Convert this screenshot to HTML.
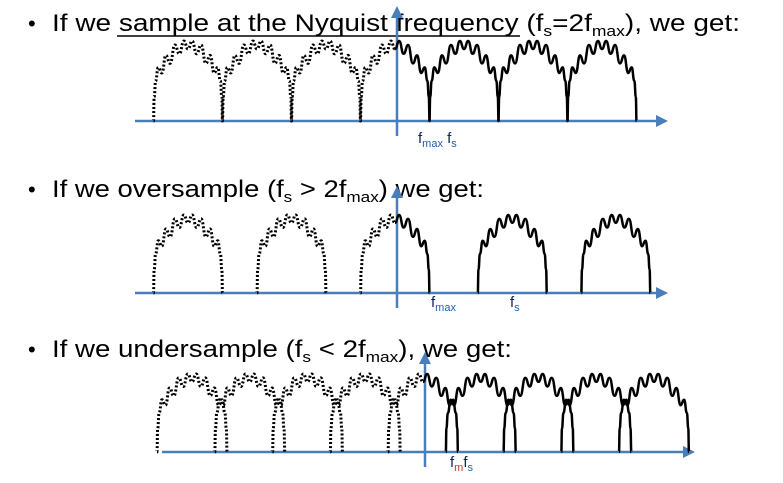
<!DOCTYPE html>
<html><head><meta charset="utf-8"><style>
body{margin:0;background:#fff;}
svg{display:block;}
text{font-family:"Liberation Sans",sans-serif;}
</style></head><body>
<div style="position:relative;width:783px;height:483px">
<svg id="chart" width="783" height="483" viewBox="0 0 783 483" style="position:absolute;left:0;top:0">
<g>
<text x="28" y="31" font-size="22">•</text>
<text x="52" y="31" font-size="24" textLength="688" lengthAdjust="spacingAndGlyphs">If we sample at the Nyquist frequency (f<tspan font-size="15" dy="5">s</tspan><tspan dy="-5">=2f</tspan><tspan font-size="15" dy="5">max</tspan><tspan dy="-5">), we get:</tspan></text>
<line x1="117" y1="36" x2="520" y2="36" stroke="#000" stroke-width="1.5"/>
</g>
<g>
<text x="28" y="197" font-size="22">•</text>
<text x="52" y="197" font-size="24" textLength="432" lengthAdjust="spacingAndGlyphs">If we oversample (f<tspan font-size="15" dy="5">s</tspan><tspan dy="-5"> &gt; 2f</tspan><tspan font-size="15" dy="5">max</tspan><tspan dy="-5">) we get:</tspan></text>
</g>
<g>
<text x="28" y="357" font-size="22">•</text>
<text x="52" y="357" font-size="24" textLength="460" lengthAdjust="spacingAndGlyphs">If we undersample (f<tspan font-size="15" dy="5">s</tspan><tspan dy="-5"> &lt; 2f</tspan><tspan font-size="15" dy="5">max</tspan><tspan dy="-5">), we get:</tspan></text>
</g>
<g id="plots"></g>
<g>
<text x="418" y="143" font-size="15" fill="#10205a">f<tspan font-size="11" dy="4" fill="#1f5faa">max</tspan><tspan dy="-4"> f</tspan><tspan font-size="11" dy="4" fill="#1f5faa">s</tspan></text>
</g>
<g>
<text x="431" y="307" font-size="15" fill="#10205a">f<tspan font-size="11" dy="4" fill="#1f5faa">max</tspan></text>
<text x="510" y="307" font-size="15" fill="#10205a">f<tspan font-size="11" dy="4" fill="#1f5faa">s</tspan></text>
</g>
<g>
<text x="450" y="467" font-size="15" fill="#10205a">f<tspan font-size="11" dy="4" fill="#c0392b">m</tspan><tspan dy="-4">f</tspan><tspan font-size="11" dy="4" fill="#1f5faa">s</tspan></text>
</g>
</svg>
</div>
<script>
// spectral replica centers in units of fmax
const panel1Centers = [-6, -4, -2, 0, 2, 4, 6];
const panel2Centers = [-6, -3, 0, 3.4, 6.4];
const panel3Centers = [-6.6, -4.95, -3.3, -1.65, 0, 1.65, 3.3, 4.95, 6.6];
// half-spectrum magnitude profile
const profileU = [0, 0.12, 0.25, 0.38, 0.52, 0.64, 0.76, 0.86, 0.94, 0.98, 1];
const profileH = [0.9, 1.0, 0.84, 0.95, 0.72, 0.82, 0.6, 0.67, 0.5, 0.3, 0];

const NS = "http://www.w3.org/2000/svg";
const plots = document.getElementById('plots');
const panels = [
  {centers: panel1Centers, ox: 395, base: 121, unit: 34.5, H: 80, x0: 135, x1: 668, yTop: 6},
  {centers: panel2Centers, ox: 395, base: 293, unit: 34.5, H: 78, x0: 135, x1: 668, yTop: 186},
  {centers: panel3Centers, ox: 423, base: 452, unit: 35, H: 78, x0: 162, x1: 695, yTop: 352}
];
function lobePath(p, c, from, to) {
  const pts = [];
  const n = profileU.length;
  for (let i = n - 1; i >= 0; i--) pts.push([-profileU[i], profileH[i]]);
  for (let i = 1; i < n; i++) pts.push([profileU[i], profileH[i]]);
  const sel = pts.filter(q => q[0] >= from && q[0] <= to).map(q => [p.ox + (c + q[0]) * p.unit, p.base - q[1] * p.H]);
  let d = 'M' + sel[0][0].toFixed(1) + ' ' + sel[0][1].toFixed(1);
  for (let i = 1; i < sel.length; i++) {
    const a = sel[i - 1], b = sel[i];
    const mx = (a[0] + b[0]) / 2;
    d += 'C' + mx.toFixed(1) + ' ' + a[1].toFixed(1) + ' ' + mx.toFixed(1) + ' ' + b[1].toFixed(1) + ' ' + b[0].toFixed(1) + ' ' + b[1].toFixed(1);
  }
  return d;
}
function addPath(d, dotted, name) {
  const e = document.createElementNS(NS, 'path');
  e.setAttribute('d', d);
  e.setAttribute('fill', 'none');
  e.setAttribute('stroke', '#000');
  e.setAttribute('stroke-width', dotted ? 3 : 2.5);
  e.setAttribute('stroke-linejoin', 'round');
  if (dotted) e.setAttribute('stroke-dasharray', '2 2');
  
  
  plots.appendChild(e);
}
panels.forEach((p, pi) => {
  const ax = document.createElementNS(NS, 'g');
  ax.innerHTML = `<line x1="${p.x0}" y1="${p.base}" x2="${p.x1-8}" y2="${p.base}" stroke="#4a7ebb" stroke-width="2.5"/>
  <path d="M${p.x1} ${p.base} L${p.x1-12} ${p.base-6} L${p.x1-12} ${p.base+6}Z" fill="#4a7ebb"/>
  <line x1="${p.ox+2}" y1="${p.base+15}" x2="${p.ox+2}" y2="${p.yTop+8}" stroke="#4a7ebb" stroke-width="2.5"/>
  <path d="M${p.ox+2} ${p.yTop} L${p.ox-4} ${p.yTop+12} L${p.ox+8} ${p.yTop+12}Z" fill="#4a7ebb"/>`;
  
  
  plots.appendChild(ax);
  p.centers.forEach(c => {
    if (c < 0) addPath(lobePath(p, c, -1, 1), true, 'replica-dotted');
    else if (c === 0) {
      addPath(lobePath(p, c, -1, 0), true, 'baseband-left');
      addPath(lobePath(p, c, 0, 1), false, 'baseband-right');
    } else addPath(lobePath(p, c, -1, 1), false, 'replica-solid');
  });
});
</script>
</body></html>
